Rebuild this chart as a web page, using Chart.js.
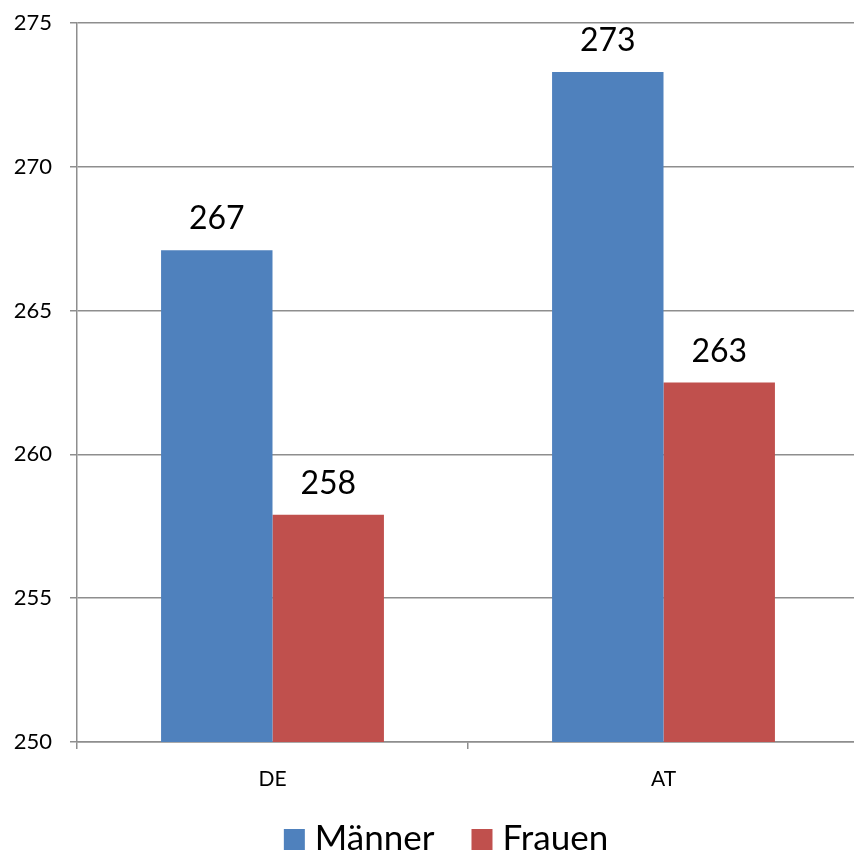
<!DOCTYPE html>
<html><head><meta charset="utf-8">
<script src="https://cdn.jsdelivr.net/npm/chart.js@4"></script>
<style>html,body{margin:0;padding:0;overflow:hidden;background:#fff;width:854px;height:851px}
#wrap{position:absolute;left:0;top:0;width:892px;height:851px}</style>
</head><body>
<div id="wrap"><canvas id="c" width="892" height="851"></canvas></div>
<script>
const categories = ["DE", "AT"];
const maenner = [267.1, 273.3];
const frauen = [257.9, 262.5];
const seriesNames = ["Männer", "Frauen"];
const yTicks = [250, 255, 260, 265, 270, 275];

const FONT = "Lato, 'Liberation Sans', sans-serif";

const dataLabels = {
  id: 'dataLabels',
  afterDatasetsDraw(chart) {
    const ctx = chart.ctx;
    ctx.save();
    ctx.font = "32px " + FONT;
    ctx.fillStyle = "#000";
    ctx.textAlign = "center";
    ctx.textBaseline = "alphabetic";
    chart.data.datasets.forEach((ds, i) => {
      chart.getDatasetMeta(i).data.forEach((el, j) => {
        ctx.fillText(String(Math.round(ds.data[j])), el.x, el.y - 21);
      });
    });
    ctx.restore();
  }
};

const bottomLegend = {
  id: 'bottomLegend',
  afterDraw(chart) {
    const ctx = chart.ctx;
    ctx.save();
    ctx.font = "35px " + FONT;
    ctx.textBaseline = "alphabetic";
    ctx.textAlign = "left";
    const box = 21, gapBox = 10, gapItem = 37;
    const items = chart.data.datasets.map(ds => ({ text: ds.label, color: ds.backgroundColor, w: ctx.measureText(ds.label).width }));
    let total = 0;
    items.forEach((it, i) => { total += box + gapBox + it.w + (i < items.length - 1 ? gapItem : 0); });
    let x = chart.width / 2 - total / 2;
    const baseline = 850;
    items.forEach(it => {
      ctx.fillStyle = it.color;
      ctx.fillRect(x, baseline - box, box, box);
      ctx.fillStyle = "#000";
      ctx.fillText(it.text, x + box + gapBox, baseline);
      x += box + gapBox + it.w + gapItem;
    });
    ctx.restore();
  }
};

new Chart(document.getElementById('c'), {
  type: 'bar',
  data: {
    labels: categories,
    datasets: [
      { label: seriesNames[0], data: maenner, backgroundColor: '#4F81BD', borderWidth: 0 },
      { label: seriesNames[1], data: frauen, backgroundColor: '#C0504D', borderWidth: 0 }
    ]
  },
  options: {
    responsive: false,
    animation: false,
    devicePixelRatio: 1,
    layout: { padding: { top: 23, right: 33, left: 0, bottom: 0 } },
    datasets: { bar: { categoryPercentage: 0.57, barPercentage: 1.0 } },
    scales: {
      y: {
        min: 250, max: 275,
        afterBuildTicks(axis) { axis.ticks = yTicks.map(v => ({ value: v })); },
        afterFit(scale) { scale.width = 77; scale.paddingTop = 0; scale.paddingBottom = 0; },
        ticks: { color: '#000', font: { size: 22, family: FONT }, padding: 18 },
        grid: { color: '#8e8e8e', lineWidth: 1.5, tickLength: 7, tickColor: '#8e8e8e' },
        border: { display: true, color: '#8e8e8e', width: 1.5 }
      },
      x: {
        afterFit(scale) { scale.height = 109; scale.paddingLeft = 0; scale.paddingRight = 0; },
        ticks: { color: '#000', font: { size: 21, family: FONT }, padding: 18 },
        grid: { display: true, drawOnChartArea: false, drawTicks: true, tickLength: 7, color: '#8e8e8e', lineWidth: 1.5, offset: true },
        border: { display: true, color: '#8e8e8e', width: 1.5 }
      }
    },
    plugins: {
      legend: { display: false },
      tooltip: { enabled: false }
    }
  },
  plugins: [dataLabels, bottomLegend]
});
</script>
</body></html>
